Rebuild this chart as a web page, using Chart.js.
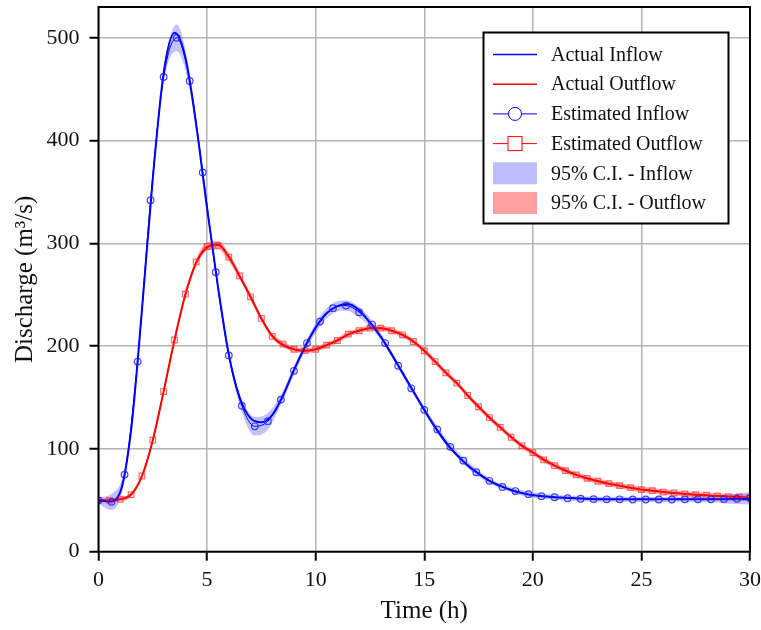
<!DOCTYPE html>
<html>
<head>
<meta charset="utf-8">
<script src="https://cdn.jsdelivr.net/npm/chart.js@4.4.1/dist/chart.umd.min.js"></script>
<style>
  html, body { margin: 0; padding: 0; background: #fff; }
  #wrap { width: 761px; height: 630px; }
</style>
</head>
<body>
<div id="wrap"><canvas id="chart" width="761" height="630"></canvas></div>
<script>
// time grids (h)
const timesHalf = [0, 0.5, 1, 1.5, 2, 2.5, 3, 3.5, 4, 4.5, 5, 5.5, 6, 6.5, 7, 7.5, 8, 8.5, 9, 9.5,
  10, 10.5, 11, 11.5, 12, 12.5, 13, 13.5, 14, 14.5, 15, 15.5, 16, 16.5, 17, 17.5, 18, 18.5, 19, 19.5,
  20, 20.5, 21, 21.5, 22, 22.5, 23, 23.5, 24, 24.5, 25, 25.5, 26, 26.5, 27, 27.5, 28, 28.5, 29, 29.5, 30];
const timesEst = [0, 0.6, 1.2, 1.8, 2.4, 3, 3.6, 4.2, 4.8, 5.4, 6, 6.6, 7.2, 7.8, 8.4, 9, 9.6,
  10.2, 10.8, 11.4, 12, 12.6, 13.2, 13.8, 14.4, 15, 15.6, 16.2, 16.8, 17.4, 18, 18.6, 19.2, 19.8,
  20.4, 21, 21.6, 22.2, 22.8, 23.4, 24, 24.6, 25.2, 25.8, 26.4, 27, 27.6, 28.2, 28.8, 29.4, 30];

// discharge (m3/s), actual hydrographs on the 0.5 h grid
const actualInflow = [50, 49, 58, 118, 235, 363, 466, 505, 481, 415, 334, 258, 192, 150, 130, 126, 133, 152, 177, 199,
  218, 232, 239, 241, 235, 223, 209, 192, 174, 156, 138, 121, 106, 94, 84, 76, 69, 64, 60, 57,
  55, 54, 53, 52.5, 52, 51.5, 51, 51, 51, 51, 51, 51, 51, 51, 51, 51, 51, 51, 51, 51, 51];
const actualOutflow = [50, 50, 51, 55.5, 73.5, 108.5, 156, 206, 250, 281, 296, 299, 287, 268, 248, 227, 210, 201, 197, 195.5,
  197, 201, 205.5, 211.5, 215, 217.5, 217.5, 215, 211, 204.5, 195.5, 185, 174, 164, 152, 141, 130.5, 121, 111.5, 103,
  96.5, 89.5, 83.7, 79, 74.7, 71.4, 68.5, 66.2, 64.3, 62.3, 60.4, 59.4, 58, 57.1, 56.2, 55.5, 54.9, 54.2, 53.6, 53.3, 52.6];

// estimated hydrographs
const estInflow = [50, 48.5, 75, 185, 342, 462, 500, 458, 369, 272, 191, 142, 122, 127, 148, 176, 203,
  224, 237, 239.5, 233, 221, 203, 181, 159, 138, 119, 102, 88.6, 77.3, 69, 63, 59, 56,
  54, 53, 52, 51.5, 51.2, 51, 51, 50.8, 50.8, 50.8, 50.8, 51, 51, 51, 51.2, 51.5, 52];
const estOutflow = [50, 50, 51, 55.5, 73.7, 108.5, 155.8, 206, 250.6, 282, 297, 298, 286.6, 268.4, 248, 227, 209.5, 202, 197, 195.7,
  197, 201, 205.5, 211.7, 215, 217.5, 217.5, 215, 211, 204.5, 195.4, 185, 174, 164, 152, 141, 130.5, 121, 111.4, 103,
  96.4, 89.3, 83.7, 78.9, 74.7, 71.4, 68.5, 66.2, 64.3, 62.3, 60.4, 59.4, 58, 57.1, 56.2, 55.5, 54.9, 54.2, 53.6, 53.3, 52.6];

// half-width of the 95% confidence bands
const ciInflowHalf = [3, 8, 6, 4, 4, 6, 13, 8, 5, 4, 4, 6, 9, 8, 5, 4, 4,
  5, 5, 5, 5, 4, 3, 3, 3, 3, 3, 3, 3, 3, 2.5, 2.5, 2.5, 2.5,
  2.5, 2.5, 2.5, 2.5, 2.5, 2.5, 2.5, 2.5, 2.5, 2.5, 2.5, 2.5, 3, 3, 4, 5, 6];
const ciOutflowHalf = [2, 2, 2, 2, 2, 2, 2, 2.5, 3, 3, 4, 4, 4, 3, 3, 2.5, 2.5, 2.5, 2.5, 2.5,
  2.5, 2.5, 2.5, 2.5, 2.5, 2.5, 2.5, 2.5, 2.5, 2.5, 2.5, 2.5, 2.5, 2.5, 2.5, 2.5, 2.5, 2.5, 2.5, 2.5,
  2.5, 2.5, 2.5, 2.5, 2.5, 2.5, 2.5, 2.5, 2.5, 2.5, 2.5, 2.5, 2.5, 2.5, 2.5, 2.5, 2.5, 2.5, 2.5, 2.5, 3];

const xTicks = [0, 5, 10, 15, 20, 25, 30];
const yTicks = [0, 100, 200, 300, 400, 500];

const BLUE = 'rgb(0, 0, 255)';
const RED = 'rgb(255, 0, 0)';
const BAND_BLUE = 'rgba(120, 120, 255, 0.45)';
const BAND_RED = 'rgba(255, 80, 80, 0.5)';
const SERIF = '"Liberation Serif", "Times New Roman", serif';

const pts = (xs, ys) => xs.map((x, i) => ({ x, y: ys[i] }));
const band = (xs, ys, half, sign) => xs.map((x, i) => ({ x, y: ys[i] + sign * half[i] }));

const datasets = [
  {
    label: 'Estimated Inflow', legendKind: 'circle', data: pts(timesEst, estInflow),
    borderColor: BLUE, borderWidth: 1, pointStyle: 'circle', pointRadius: 3.3,
    pointBorderColor: 'rgba(30, 30, 255, 0.85)', pointBackgroundColor: 'rgba(0,0,0,0)', pointBorderWidth: 1.2,
    cubicInterpolationMode: 'monotone', fill: false
  },
  {
    label: 'Estimated Outflow', legendKind: 'rect', data: pts(timesHalf, estOutflow),
    borderColor: RED, borderWidth: 1, pointStyle: 'rect', pointRadius: 4,
    pointBorderColor: 'rgba(255, 40, 40, 0.7)', pointBackgroundColor: 'rgba(0,0,0,0)', pointBorderWidth: 1.2,
    cubicInterpolationMode: 'monotone', fill: false
  },
  {
    label: 'Actual Inflow', legendKind: 'line', data: pts(timesHalf, actualInflow),
    borderColor: BLUE, borderWidth: 2, pointRadius: 0, cubicInterpolationMode: 'monotone', fill: false
  },
  {
    label: 'Actual Outflow', legendKind: 'line', data: pts(timesHalf, actualOutflow),
    borderColor: RED, borderWidth: 2, pointRadius: 0, cubicInterpolationMode: 'monotone', fill: false
  },
  {
    label: '95% C.I. - Inflow', legendKind: 'box', legendColor: 'rgb(190, 190, 255)',
    data: band(timesEst, estInflow, ciInflowHalf, 1),
    borderColor: 'rgba(0,0,0,0)', backgroundColor: BAND_BLUE, pointRadius: 0,
    cubicInterpolationMode: 'monotone', fill: '+1'
  },
  {
    label: '', data: band(timesEst, estInflow, ciInflowHalf, -1),
    borderColor: 'rgba(0,0,0,0)', pointRadius: 0, cubicInterpolationMode: 'monotone', fill: false
  },
  {
    label: '95% C.I. - Outflow', legendKind: 'box', legendColor: 'rgb(255, 160, 160)',
    data: band(timesHalf, estOutflow, ciOutflowHalf, 1),
    borderColor: 'rgba(0,0,0,0)', backgroundColor: BAND_RED, pointRadius: 0,
    cubicInterpolationMode: 'monotone', fill: '+1'
  },
  {
    label: '', data: band(timesHalf, estOutflow, ciOutflowHalf, -1),
    borderColor: 'rgba(0,0,0,0)', pointRadius: 0, cubicInterpolationMode: 'monotone', fill: false
  }
];

// legend order as in the figure
const legendOrder = ['Actual Inflow', 'Actual Outflow', 'Estimated Inflow', 'Estimated Outflow',
  '95% C.I. - Inflow', '95% C.I. - Outflow'];

const framePlugin = {
  id: 'frame',
  afterDatasetsDraw(chart) {
    const { ctx, chartArea: a } = chart;
    ctx.save();
    ctx.strokeStyle = '#000';
    ctx.lineWidth = 2;
    ctx.strokeRect(a.left, a.top, a.right - a.left, a.bottom - a.top);
    ctx.restore();
  }
};

const boxLegend = {
  id: 'boxLegend',
  afterDraw(chart) {
    const ctx = chart.ctx;
    const bx = 483.5, by = 32.5, bw = 245, bh = 191;
    ctx.save();
    ctx.fillStyle = '#fff';
    ctx.fillRect(bx, by, bw, bh);
    ctx.strokeStyle = '#000';
    ctx.lineWidth = 2;
    ctx.strokeRect(bx, by, bw, bh);

    legendOrder.forEach((name, i) => {
      const ds = chart.data.datasets.find(d => d.label === name);
      const y = 54.5 + i * 29.7;
      const x0 = 493, x1 = 537, xm = 515;
      if (ds.legendKind === 'box') {
        ctx.fillStyle = ds.legendColor;
        ctx.fillRect(x0, y - 11, x1 - x0, 22);
      } else {
        ctx.strokeStyle = ds.borderColor;
        ctx.lineWidth = ds.legendKind === 'line' ? 1.5 : 1;
        ctx.beginPath();
        ctx.moveTo(x0, y);
        ctx.lineTo(x1, y);
        ctx.stroke();
        if (ds.legendKind === 'circle') {
          ctx.fillStyle = '#fff';
          ctx.beginPath();
          ctx.arc(xm, y, 6.5, 0, Math.PI * 2);
          ctx.fill();
          ctx.stroke();
        } else if (ds.legendKind === 'rect') {
          ctx.fillStyle = '#fff';
          ctx.fillRect(xm - 7, y - 7, 14, 14);
          ctx.strokeRect(xm - 7, y - 7, 14, 14);
        }
      }
      ctx.fillStyle = '#111';
      ctx.font = '20px ' + SERIF;
      ctx.textBaseline = 'middle';
      ctx.textAlign = 'left';
      ctx.fillText(name, 551, y + 1);
    });
    ctx.restore();
  }
};

new Chart(document.getElementById('chart'), {
  type: 'line',
  data: { datasets },
  plugins: [framePlugin, boxLegend],
  options: {
    responsive: false,
    animation: false,
    devicePixelRatio: 1,
    layout: { padding: { top: 7, right: 11, left: 0, bottom: 0 } },
    plugins: {
      legend: { display: false },
      tooltip: { enabled: false },
      filler: { propagate: false }
    },
    scales: {
      x: {
        type: 'linear', min: 0, max: 30,
        afterFit: s => { s.height = 78.3; s.paddingLeft = 0; s.paddingRight = 0; },
        afterBuildTicks: s => { s.ticks = xTicks.map(v => ({ value: v })); },
        ticks: { font: { family: SERIF, size: 22 }, color: '#111', padding: 6, maxRotation: 0 },
        grid: { color: '#b4b4b4', lineWidth: 1.5, drawTicks: true, tickLength: 9, tickColor: '#000', tickWidth: 2 },
        border: { display: false },
        title: { display: true, text: 'Time (h)', font: { family: SERIF, size: 25 }, color: '#111', padding: { top: 0, bottom: 4 } }
      },
      y: {
        type: 'linear', min: 0, max: 530,
        afterFit: s => { s.width = 98.5; s.paddingTop = 0; s.paddingBottom = 0; },
        afterBuildTicks: s => { s.ticks = yTicks.map(v => ({ value: v })); },
        ticks: { font: { family: SERIF, size: 22 }, color: '#111', padding: 10 },
        grid: { color: '#b4b4b4', lineWidth: 1.5, drawTicks: true, tickLength: 9, tickColor: '#000', tickWidth: 2 },
        border: { display: false },
        title: { display: true, text: 'Discharge (m³/s)', font: { family: SERIF, size: 25 }, color: '#111', padding: { top: 10, bottom: 0 } }
      }
    }
  }
});
</script>
</body>
</html>
